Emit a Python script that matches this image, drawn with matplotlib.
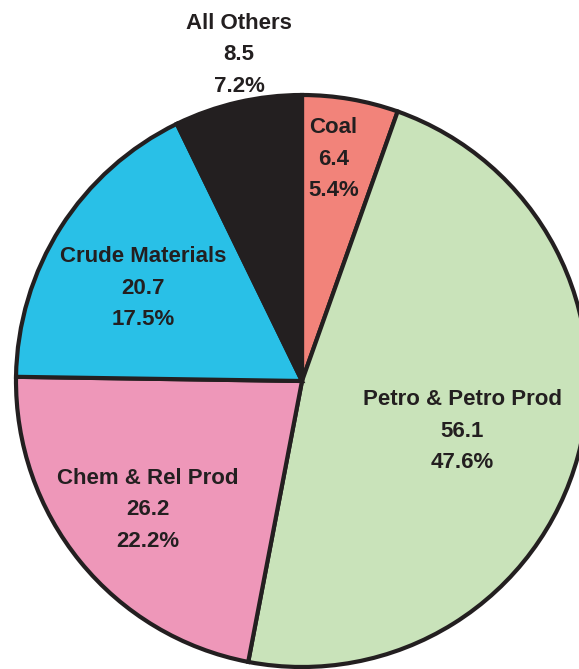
import matplotlib.pyplot as plt

# 各类货物（单位：百万吨）
categories = ["Coal", "Petro & Petro Prod", "Chem & Rel Prod", "Crude Materials", "All Others"]
values = [6.4, 56.1, 26.2, 20.7, 8.5]
percents = ["5.4%", "47.6%", "22.2%", "17.5%", "7.2%"]

colors = ["#F2837A", "#C9E3BA", "#EE97B9", "#29C0E7", "#231F20"]
# 标签中心位置（数据坐标，饼图半径为1）
label_pos = [(0.11, 0.775), (0.56, -0.175), (-0.54, -0.45), (-0.555, 0.325), (-0.22, 1.14)]

plt.rcParams['font.family'] = ['Liberation Sans', 'DejaVu Sans']

fig = plt.figure(figsize=(5.79, 6.69), dpi=100)
ax = fig.add_axes([0, 0, 1, 1])
ax.pie(values, colors=colors, startangle=90, counterclock=False, radius=1,
       wedgeprops=dict(edgecolor="#231F20", linewidth=3))

for (x, y), name, v, p in zip(label_pos, categories, values, percents):
    ax.text(x, y, name + "\n" + str(v) + "\n" + p, ha="center", va="center",
            fontsize=16, fontweight="bold", color="#231F20", linespacing=1.65)

# 饼图中心在画布偏上，右侧和底部略被裁掉
scale = 286.0
ax.set_xlim(-302 / scale, (579 - 302) / scale)
ax.set_ylim(-(669 - 381) / scale, 381 / scale)
ax.set_aspect("auto")
ax.axis("off")

plt.savefig("out.png", dpi=100)
